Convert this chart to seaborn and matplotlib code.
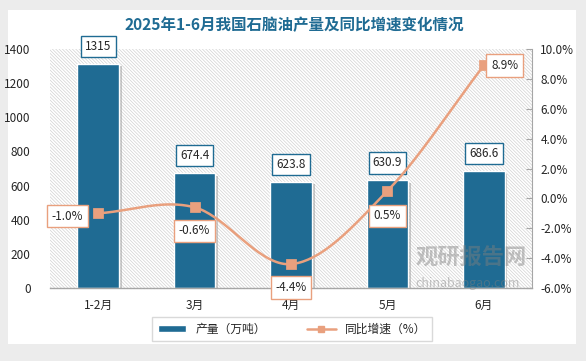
import numpy as np
import seaborn as sns
import matplotlib.pyplot as plt
import matplotlib.patheffects as pe
from matplotlib.patches import Rectangle
from matplotlib.lines import Line2D

months = ['1-2月', '3月', '4月', '5月', '6月']
output = [1315, 674.4, 623.8, 630.9, 686.6]
growth = [-1.0, -0.6, -4.4, 0.5, 8.9]
output_labels = ['1315', '674.4', '623.8', '630.9', '686.6']
growth_labels = ['-1.0%', '-0.6%', '-4.4%', '0.5%', '8.9%']

bar_color = '#1f6b93'
line_color = '#e9a07e'


def smooth_path(xs, ys, n=40):
    # catmull-rom through the points, like the smoothed line in excel
    pts = np.column_stack([xs, ys]).astype(float)
    pts = np.vstack([pts[0] - (pts[1] - pts[0]), pts, pts[-1] + (pts[-1] - pts[-2])])
    out = []
    for i in range(1, len(pts) - 2):
        p0, p1, p2, p3 = pts[i - 1], pts[i], pts[i + 1], pts[i + 2]
        t = np.linspace(0, 1, n)[:, None]
        seg = 0.5 * ((2 * p1) + (-p0 + p2) * t + (2 * p0 - 5 * p1 + 4 * p2 - p3) * t ** 2
                     + (-p0 + 3 * p1 - 3 * p2 + p3) * t ** 3)
        out.append(seg)
    out = np.vstack(out)
    return out[:, 0], out[:, 1]


sns.set_style('white')
plt.rcParams['font.family'] = ['Noto Sans CJK SC', 'DejaVu Sans']
plt.rcParams['hatch.linewidth'] = 0.5

fig = plt.figure(figsize=(5.86, 3.61), dpi=100, facecolor='#ececec')
fig.patches.append(Rectangle((8 / 586, 1 - 344 / 361), 568 / 586, 334 / 361,
                             transform=fig.transFigure, facecolor='white',
                             edgecolor='none', zorder=-10))

ax = fig.add_axes([50 / 586, 1 - 288 / 361, 482 / 586, 239 / 361])
ax.set_facecolor('none')
ax.add_patch(Rectangle((0, 0), 1, 1, transform=ax.transAxes, facecolor='white',
                       edgecolor='#d2d2d2', hatch='\\' * 10, linewidth=0, zorder=0))

sns.barplot(x=months, y=output, ax=ax, color=bar_color, width=0.43, saturation=1,
            edgecolor='white', linewidth=1, zorder=2)
for p in ax.patches[1:]:
    p.set_path_effects([pe.SimplePatchShadow(offset=(2, -2), shadow_rgbFace='#999999', alpha=0.5),
                        pe.Normal()])

ax.set_ylim(0, 1400)
ax.set_xlim(-0.5, 4.5)
ax.set_yticks(range(0, 1401, 200))
ax.tick_params(axis='y', length=0, labelsize=8.5, pad=14)
ax.tick_params(axis='x', length=0, labelsize=8.5, pad=8)
for s in ['left', 'right', 'top']:
    ax.spines[s].set_visible(False)
ax.spines['bottom'].set_color('#a6a6a6')
ax.spines['bottom'].set_linewidth(1)
ax.set_xlabel('')

for i, (v, lab) in enumerate(zip(output, output_labels)):
    ax.annotate(lab, (i, v), xytext=(0, 12.5), textcoords='offset points',
                ha='center', va='center', fontsize=8.5, zorder=5,
                bbox=dict(boxstyle='square,pad=0.35', facecolor='white',
                          edgecolor=bar_color, linewidth=1))

ax2 = ax.twinx()
ax2.set_ylim(-6, 10)
ax2.set_yticks(range(-6, 11, 2))
ax2.set_yticklabels([f'{t:.1f}%' for t in range(-6, 11, 2)])
ax2.tick_params(axis='y', direction='in', length=4, color='#a6a6a6', labelsize=8.5, pad=6)
for s in ['left', 'top', 'bottom']:
    ax2.spines[s].set_visible(False)
ax2.spines['right'].set_color('#a6a6a6')

xs = np.arange(len(growth))
sx, sy = smooth_path(xs, growth)
ax2.plot(sx, sy, color=line_color, linewidth=1.8, zorder=3)
sns.scatterplot(x=xs, y=growth, ax=ax2, marker='s', s=45, color=line_color,
                edgecolor=line_color, zorder=4, legend=False)

offsets = [(-22, -2), (0, -17), (0, -17), (0, -18), (15, 0)]
for i, (v, lab) in enumerate(zip(growth, growth_labels)):
    ax2.annotate(lab, (i, v), xytext=offsets[i], textcoords='offset points',
                 ha='center', va='center', fontsize=8.5, zorder=6,
                 bbox=dict(boxstyle='square,pad=0.4', facecolor='white',
                           edgecolor=line_color, linewidth=1))

fig.text(294 / 586, 1 - 25 / 361, '2025年1-6月我国石脑油产量及同比增速变化情况',
         ha='center', va='center', fontsize=11.2, fontweight='bold', color=bar_color)

# watermark
fig.text(471 / 586, 1 - 258 / 361, '观研报告网', ha='center', va='center', fontsize=16,
         fontweight='bold', color='#7f7f7f', alpha=0.45, zorder=10)
fig.text(468 / 586, 1 - 283 / 361, 'chinabaogao.com', ha='center', va='center', fontsize=9,
         color='#7f7f7f', alpha=0.45, zorder=10)

handles = [Rectangle((0, 0), 1, 1, facecolor=bar_color),
           Line2D([0], [0], color=line_color, linewidth=1.8, marker='s', markersize=5)]
fig.legend(handles, ['产量（万吨）', '同比增速（%）'], loc='center',
           bbox_to_anchor=(292 / 586, 1 - 329 / 361), ncol=2, fontsize=8.5,
           frameon=True, fancybox=False, edgecolor='#d0d0d0', handlelength=2.4,
           handleheight=0.5, columnspacing=3.5, borderpad=0.5)

fig.savefig('out.png', dpi=100, facecolor=fig.get_facecolor())
